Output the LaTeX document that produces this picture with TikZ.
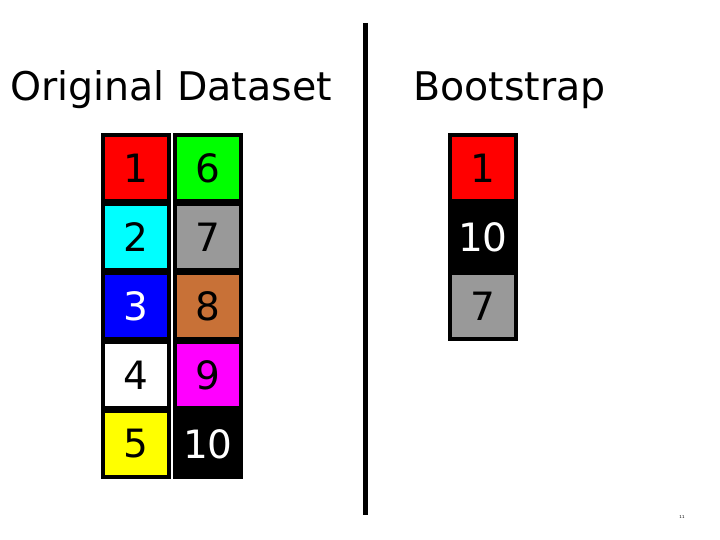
\documentclass[tikz,border=0pt]{standalone}
\usepackage{fontspec}
\setmainfont{DejaVu Sans}
\definecolor{cbrown}{RGB}{200,113,55}
\definecolor{cgray}{RGB}{153,153,153}
\definecolor{ccyan}{RGB}{0,255,255}
\definecolor{cmag}{RGB}{255,0,255}
\definecolor{cred}{RGB}{255,0,0}
\definecolor{cgreen}{RGB}{0,255,0}
\definecolor{cblue}{RGB}{0,0,255}
\definecolor{cyel}{RGB}{255,255,0}
\tikzset{
  cell/.style={draw=black, line width=4pt, minimum width=66pt, minimum height=66pt, inner sep=0pt,
    text=black, font=\fontsize{39}{39}\selectfont},
  title/.style={anchor=base west, inner sep=0pt, font=\fontsize{39.5}{39.5}\selectfont},
}
\begin{document}
\begin{tikzpicture}[x=1pt,y=-1pt]
\useasboundingbox (0,0) rectangle (720,540);
\node[title] (t1) at (10,101) {Original Dataset};
\node[title] (t2) at (413,101) {Bootstrap};
\coordinate (ltop) at (365,23);
\coordinate (lbot) at (365,515);
\draw[line width=5pt] (ltop) -- (lbot);
% column 1
\node[cell, fill=cred] (c1) at (135.5,168) {1};
\node[cell, fill=ccyan] (c2) at (135.5,237) {2};
\node[cell, fill=cblue, text=white] (c3) at (135.5,306) {3};
\node[cell, fill=white] (c4) at (135.5,375) {4};
\node[cell, fill=cyel] (c5) at (135.5,444) {5};
% column 2
\node[cell, fill=cgreen] (c6) at (208,168) {6};
\node[cell, fill=cgray] (c7) at (208,237) {7};
\node[cell, fill=cbrown] (c8) at (208,306) {8};
\node[cell, fill=cmag] (c9) at (208,375) {9};
\node[cell, fill=black, text=white] (c10) at (208,444) {10};
% bootstrap
\node[cell, fill=cred] (b1) at (483,168) {1};
\node[cell, fill=black, text=white] (b2) at (483,237) {10};
\node[cell, fill=cgray] (b3) at (483,306) {7};
\node[inner sep=0pt, font=\fontsize{4}{4}\selectfont] (pg) at (682,517) {11};
\end{tikzpicture}
\end{document}
